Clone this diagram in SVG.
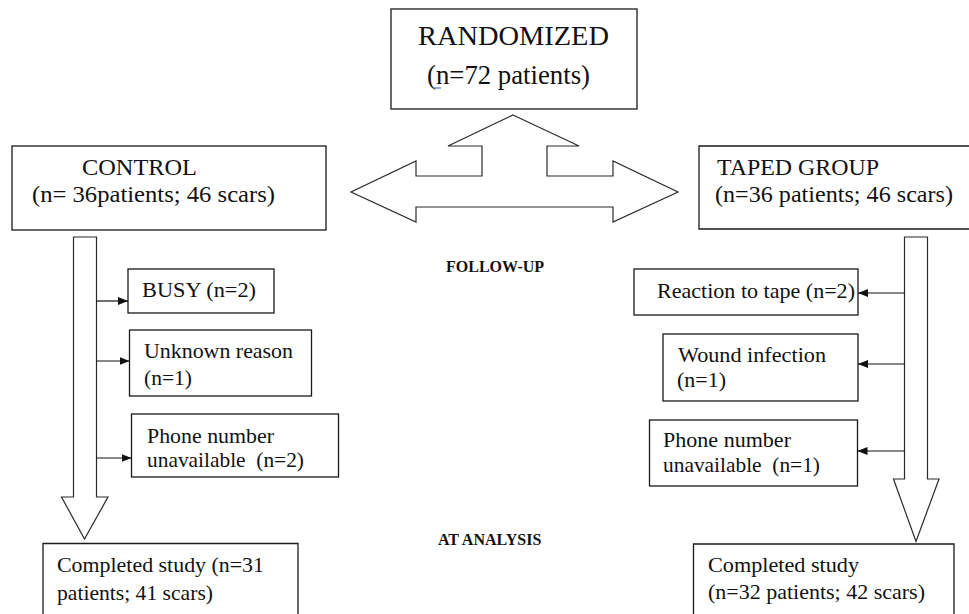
<svg xmlns="http://www.w3.org/2000/svg" width="969" height="614" viewBox="0 0 969 614">
<style>
  .box { fill: #fff; stroke: #1a1a1a; stroke-width: 1.3; }
  .blk { fill: #fff; stroke: #2a2a2a; stroke-width: 1.2; stroke-linejoin: miter; }
  text { font-family: 'Liberation Serif', 'Times New Roman', serif; fill: #111; }
  .b22 { font-size: 22px; }
  .h24 { font-size: 24px; }
  .lbl { font-size: 16px; font-weight: bold; }
  .con { stroke: #111; stroke-width: 1.2; fill: none; }
</style>
<defs>
  <marker id="ah" markerUnits="userSpaceOnUse" markerWidth="11" markerHeight="9" refX="10" refY="4" orient="auto">
    <path d="M0,0 L10,4 L0,8 Z" fill="#111"/>
  </marker>
</defs>
<rect width="969" height="614" fill="#fff"/>

<g id="randomized">
  <rect class="box" x="391" y="9" width="246" height="100"/>
  <text x="418" y="45" font-size="28" textLength="191" lengthAdjust="spacingAndGlyphs">RANDOMIZED</text>
  <text x="427" y="84" font-size="27" textLength="163" lengthAdjust="spacingAndGlyphs">(n=72 patients)</text>
  <line x1="434" y1="88" x2="441" y2="88" stroke="#4472c4" stroke-width="1.2"/>
</g>

<g id="split-arrow">
  <path class="blk" d="M513,115 L579,146 L547,146 L547,176 L613,176 L613,161 L678,192 L613,222 L613,207 L416,207 L416,222 L351,192 L416,161 L416,176 L482,176 L482,146 L448,146 Z"/>
</g>

<g id="control">
  <rect class="box" x="12" y="146" width="314" height="84"/>
  <text class="h24" x="82" y="175" textLength="115" lengthAdjust="spacingAndGlyphs">CONTROL</text>
  <text class="h24" x="32" y="202" textLength="243" lengthAdjust="spacingAndGlyphs">(n= 36patients; 46 scars)</text>
</g>

<g id="taped">
  <path class="box" d="M969,146 H699 V229 H969"/>
  <text class="h24" x="717" y="175" textLength="162" lengthAdjust="spacingAndGlyphs">TAPED GROUP</text>
  <text class="h24" x="715" y="202" textLength="238" lengthAdjust="spacingAndGlyphs">(n=36 patients; 46 scars)</text>
</g>

<g id="control-flow-arrow">
  <path class="blk" d="M73.5,237 L96.5,237 L96.5,497 L108,497 L84.5,539 L61.5,497 L73.5,497 Z"/>
</g>

<g id="taped-flow-arrow">
  <path class="blk" d="M904.5,237 L927.5,237 L927.5,479 L939,479 L916,541.5 L893.5,479 L904.5,479 Z"/>
</g>

<g id="follow-up-label">
  <text class="lbl" x="446" y="272">FOLLOW-UP</text>
</g>
<g id="at-analysis-label">
  <text class="lbl" x="438" y="545">AT ANALYSIS</text>
</g>

<g id="busy">
  <rect class="box" x="128" y="269" width="146" height="44"/>
  <text class="b22" x="142" y="297" textLength="114" lengthAdjust="spacingAndGlyphs">BUSY (n=2)</text>
</g>

<g id="unknown">
  <rect class="box" x="129.5" y="330" width="182" height="66"/>
  <text class="b22" x="144" y="358" textLength="149" lengthAdjust="spacingAndGlyphs">Unknown reason</text>
  <text class="b22" x="144" y="385" textLength="48" lengthAdjust="spacingAndGlyphs">(n=1)</text>
</g>

<g id="phone-control">
  <rect class="box" x="131.5" y="414" width="207" height="63"/>
  <text class="b22" x="147" y="443" textLength="127" lengthAdjust="spacingAndGlyphs">Phone number</text>
  <text class="b22" x="147" y="467" textLength="157" lengthAdjust="spacingAndGlyphs">unavailable&#160; (n=2)</text>
</g>

<g id="completed-control">
  <path class="box" d="M43,614 V543.5 H298 V614"/>
  <text class="b22" x="57" y="572" textLength="207" lengthAdjust="spacingAndGlyphs">Completed study (n=31</text>
  <text class="b22" x="57" y="600" textLength="156" lengthAdjust="spacingAndGlyphs">patients; 41 scars)</text>
</g>

<g id="reaction">
  <rect class="box" x="634" y="269" width="224" height="46"/>
  <text class="b22" x="657" y="298" textLength="198" lengthAdjust="spacingAndGlyphs">Reaction to tape (n=2)</text>
</g>

<g id="wound">
  <rect class="box" x="663" y="334" width="195" height="67"/>
  <text class="b22" x="678" y="362" textLength="148" lengthAdjust="spacingAndGlyphs">Wound infection</text>
  <text class="b22" x="677" y="387" textLength="49" lengthAdjust="spacingAndGlyphs">(n=1)</text>
</g>

<g id="phone-taped">
  <rect class="box" x="649.5" y="420" width="208" height="66"/>
  <text class="b22" x="663" y="447" textLength="128" lengthAdjust="spacingAndGlyphs">Phone number</text>
  <text class="b22" x="663" y="472" textLength="157" lengthAdjust="spacingAndGlyphs">unavailable&#160; (n=1)</text>
</g>

<g id="completed-taped">
  <path class="box" d="M693.5,614 V544 H954 V614"/>
  <text class="b22" x="708" y="572" textLength="151" lengthAdjust="spacingAndGlyphs">Completed study</text>
  <text class="b22" x="708" y="599" textLength="217" lengthAdjust="spacingAndGlyphs">(n=32 patients; 42 scars)</text>
</g>

<g id="connectors">
  <line class="con" x1="96.5" y1="301" x2="128" y2="301" marker-end="url(#ah)"/>
  <line class="con" x1="96.5" y1="361" x2="129.5" y2="361" marker-end="url(#ah)"/>
  <line class="con" x1="96.5" y1="458" x2="131.5" y2="458" marker-end="url(#ah)"/>
  <line class="con" x1="904.5" y1="293" x2="858" y2="293" marker-end="url(#ah)"/>
  <line class="con" x1="904.5" y1="364" x2="858" y2="364" marker-end="url(#ah)"/>
  <line class="con" x1="904.5" y1="451" x2="857.5" y2="451" marker-end="url(#ah)"/>
</g>
</svg>
